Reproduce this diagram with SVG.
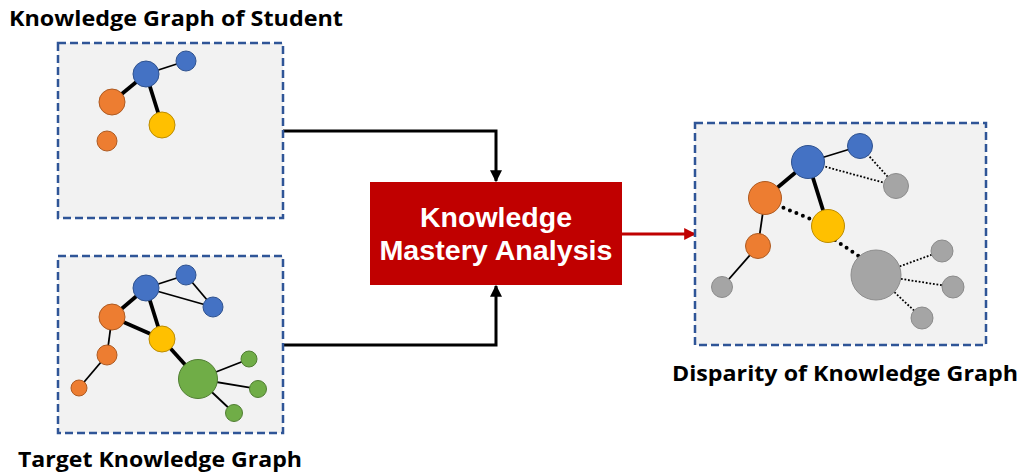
<svg xmlns="http://www.w3.org/2000/svg" width="1024" height="475" viewBox="0 0 1024 475">
<defs>
<style>
.panel{fill:#F2F2F2;stroke:#2F5597;stroke-width:2.5;stroke-dasharray:8 4}
.title{font-family:"Open Sans","Liberation Sans",sans-serif;font-weight:bold;font-size:22px;fill:#000}
.btxt{font-family:"Liberation Sans","Open Sans",sans-serif;font-weight:bold;font-size:28px;fill:#fff;text-anchor:middle}
.bl{fill:#4472C4;stroke:#2F528F;stroke-width:1}
.or{fill:#ED7D31;stroke:#AE5A21;stroke-width:1}
.ye{fill:#FFC000;stroke:#BC8C00;stroke-width:1}
.gr{fill:#70AD47;stroke:#507E32;stroke-width:1}
.gy{fill:#A5A5A5;stroke:#8C8C8C;stroke-width:1}
.thin{stroke:#000;stroke-width:1.8;fill:none}
.thick{stroke:#000;stroke-width:3.8;fill:none}
.dot{stroke:#000;stroke-width:1.8;stroke-dasharray:1.8 1.8;fill:none}
.tdot{stroke:#000;stroke-width:4;stroke-dasharray:0 7;stroke-linecap:round;fill:none}
.conn{stroke:#000;stroke-width:3;fill:none}
</style>
<marker id="ah" viewBox="0 0 10 10" refX="9" refY="5" markerWidth="4" markerHeight="4" orient="auto" markerUnits="strokeWidth">
<path d="M0,0 L10,5 L0,10 z" fill="#000"/>
</marker>
<marker id="ahr" viewBox="0 0 10 10" refX="9" refY="5" markerWidth="4" markerHeight="4" orient="auto" markerUnits="strokeWidth">
<path d="M0,0 L10,5 L0,10 z" fill="#C00000"/>
</marker>
</defs>
<rect width="1024" height="475" fill="#fff"/>

<g id="connectors">
<path class="conn" d="M283,131 H496 V181" marker-end="url(#ah)"/>
<path class="conn" d="M283,345 H496 V286" marker-end="url(#ah)"/>
<path d="M622,234 H695" stroke="#C00000" stroke-width="3" fill="none" marker-end="url(#ahr)"/>
</g>

<g id="student-graph">
<rect class="panel" x="58" y="43" width="225" height="175"/>
<line class="thin" x1="146" y1="74" x2="186" y2="61"/>
<line class="thick" x1="146" y1="74" x2="112" y2="102"/>
<line class="thick" x1="146" y1="74" x2="162" y2="125"/>
<circle class="bl" cx="146" cy="74" r="13"/>
<circle class="bl" cx="186" cy="61" r="10"/>
<circle class="or" cx="112" cy="102" r="13"/>
<circle class="ye" cx="162" cy="125" r="13"/>
<circle class="or" cx="107" cy="141" r="10"/>
</g>
<text class="title" x="9" y="26" textLength="334" lengthAdjust="spacingAndGlyphs">Knowledge Graph of Student</text>

<g id="target-graph">
<rect class="panel" x="58" y="256" width="225" height="177"/>
<line class="thin" x1="146" y1="288" x2="186" y2="275"/>
<line class="thin" x1="186" y1="275" x2="213" y2="307"/>
<line class="thin" x1="146" y1="288" x2="213" y2="307"/>
<line class="thick" x1="146" y1="288" x2="112" y2="317"/>
<line class="thick" x1="146" y1="288" x2="162" y2="339"/>
<line class="thick" x1="112" y1="317" x2="162" y2="339"/>
<line class="thick" x1="162" y1="339" x2="198" y2="379"/>
<line class="thin" x1="112" y1="317" x2="107" y2="355"/>
<line class="thin" x1="107" y1="355" x2="79" y2="388"/>
<line class="thin" x1="198" y1="379" x2="249" y2="359"/>
<line class="thin" x1="198" y1="379" x2="258" y2="389"/>
<line class="thin" x1="198" y1="379" x2="234" y2="413"/>
<circle class="bl" cx="146" cy="288" r="13"/>
<circle class="bl" cx="186" cy="275" r="10"/>
<circle class="bl" cx="213" cy="307" r="10"/>
<circle class="or" cx="112" cy="317" r="13"/>
<circle class="ye" cx="162" cy="339" r="13"/>
<circle class="or" cx="107" cy="355" r="10"/>
<circle class="or" cx="79" cy="388" r="8"/>
<circle class="gr" cx="198" cy="379" r="19.5"/>
<circle class="gr" cx="249" cy="359" r="8"/>
<circle class="gr" cx="258" cy="389" r="8.5"/>
<circle class="gr" cx="234" cy="413" r="8.5"/>
</g>
<text class="title" x="18" y="467" textLength="284" lengthAdjust="spacingAndGlyphs">Target Knowledge Graph</text>

<g id="analysis">
<rect x="370" y="182" width="252" height="103" fill="#C00000"/>
<text class="btxt" x="496" y="227" textLength="152" lengthAdjust="spacingAndGlyphs">Knowledge</text>
<text class="btxt" x="496" y="260" textLength="233" lengthAdjust="spacingAndGlyphs">Mastery Analysis</text>
</g>

<g id="disparity-graph">
<rect class="panel" x="695" y="123" width="291" height="222"/>
<line class="thin" x1="808" y1="162" x2="860" y2="146"/>
<line class="dot" x1="860" y1="146" x2="896" y2="186"/>
<line class="dot" x1="808" y1="162" x2="896" y2="186"/>
<line class="thick" x1="808" y1="162" x2="765" y2="198"/>
<line class="thick" x1="808" y1="162" x2="828" y2="226"/>
<line class="tdot" x1="777" y1="205" x2="813" y2="220"/>
<line class="tdot" x1="835" y1="240" x2="860" y2="257"/>
<line class="thin" x1="765" y1="198" x2="758" y2="246"/>
<line class="thin" x1="758" y1="246" x2="722" y2="287"/>
<line class="dot" x1="876" y1="275" x2="942" y2="251"/>
<line class="dot" x1="876" y1="275" x2="953" y2="287"/>
<line class="dot" x1="876" y1="275" x2="922" y2="318"/>
<circle class="bl" cx="808" cy="162" r="16.5"/>
<circle class="bl" cx="860" cy="146" r="12.5"/>
<circle class="gy" cx="896" cy="186" r="12.5"/>
<circle class="or" cx="765" cy="198" r="16.5"/>
<circle class="ye" cx="828" cy="226" r="16.5"/>
<circle class="or" cx="758" cy="246" r="12.5"/>
<circle class="gy" cx="722" cy="287" r="10.5"/>
<circle class="gy" cx="876" cy="275" r="25"/>
<circle class="gy" cx="942" cy="251" r="11"/>
<circle class="gy" cx="953" cy="287" r="11"/>
<circle class="gy" cx="922" cy="318" r="11"/>
</g>
<text class="title" x="672" y="381" textLength="346" lengthAdjust="spacingAndGlyphs">Disparity of Knowledge Graph</text>
</svg>
